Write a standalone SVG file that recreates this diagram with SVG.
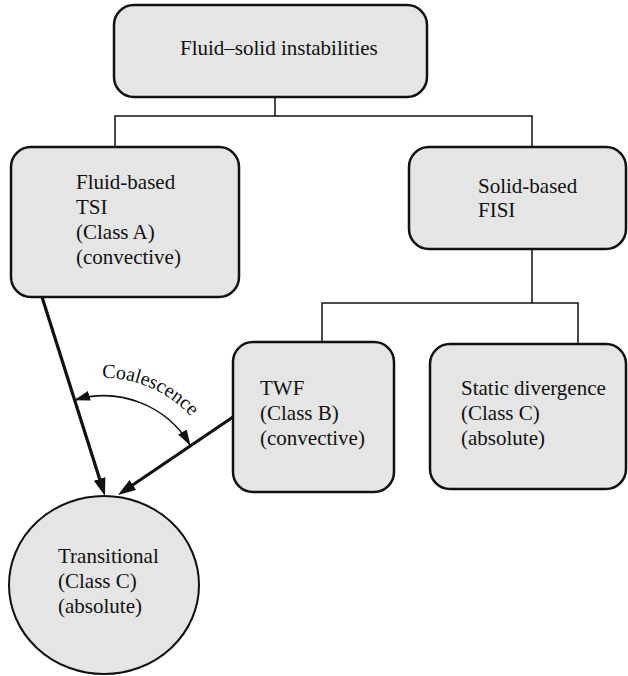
<svg xmlns="http://www.w3.org/2000/svg" width="628" height="676" viewBox="0 0 628 676" font-family="'Liberation Serif', 'Times New Roman', serif">
<style>
.node{fill:#e5e5e5;stroke:#111;stroke-width:2.5}
.tree{fill:none;stroke:#111;stroke-width:1.5}
.thick{fill:none;stroke:#111;stroke-width:3.2}
.thin{fill:none;stroke:#111;stroke-width:1.6}
text{font-family:'Liberation Serif','Times New Roman',serif;font-size:21px;fill:#111}
</style>
<defs>
<marker id="big" markerUnits="userSpaceOnUse" markerWidth="20" markerHeight="14" refX="2" refY="6" orient="auto">
<path d="M0,0 L18,6 L0,12 z" fill="#111"/>
</marker>
<marker id="small" markerUnits="userSpaceOnUse" markerWidth="18" markerHeight="12" refX="15" refY="5" orient="auto-start-reverse">
<path d="M0,0 L16,5 L0,10 z" fill="#111"/>
</marker>
<path id="arcText" d="M102,378 A118 118 0 0 1 220,476"/>
</defs>
<g id="connectors">
<path class="tree" d="M275,97 V116 M115,147 V116 H532 V147"/>
<path class="tree" d="M532,249 V303 M322,342 V303 H578 V344"/>
<path class="thick" d="M42,297 L100.2,480.8" marker-end="url(#big)"/>
<path class="thick" d="M233,417 L131.2,486" marker-end="url(#big)"/>
<path class="thin" d="M75,400 A100 100 0 0 1 190,445" marker-start="url(#small)" marker-end="url(#small)"/>
<text style="font-size:20px"><textPath href="#arcText">Coalescence</textPath></text>
</g>
<g id="n-root">
<rect class="node" x="114" y="5" width="313" height="92" rx="20"/>
<text x="180" y="55">Fluid–solid instabilities</text>
</g>
<g id="n-fluid">
<rect class="node" x="11" y="147" width="228" height="150" rx="20"/>
<text x="76" y="189">Fluid-based</text>
<text x="76" y="214">TSI</text>
<text x="76" y="239">(Class A)</text>
<text x="76" y="264">(convective)</text>
</g>
<g id="n-solid">
<rect class="node" x="409" y="147" width="217" height="102" rx="20"/>
<text x="478" y="193">Solid-based</text>
<text x="478" y="217">FISI</text>
</g>
<g id="n-twf">
<rect class="node" x="233" y="342" width="161" height="150" rx="20"/>
<text x="260" y="395">TWF</text>
<text x="260" y="420">(Class B)</text>
<text x="260" y="445">(convective)</text>
</g>
<g id="n-static">
<rect class="node" x="430" y="344" width="196" height="145" rx="20"/>
<text x="461" y="395">Static divergence</text>
<text x="461" y="420">(Class C)</text>
<text x="461" y="445">(absolute)</text>
</g>
<g id="n-trans">
<ellipse class="node" cx="104" cy="585" rx="95" ry="89" style="stroke-width:2"/>
<text x="58" y="563">Transitional</text>
<text x="58" y="588">(Class C)</text>
<text x="58" y="613">(absolute)</text>
</g>
</svg>
